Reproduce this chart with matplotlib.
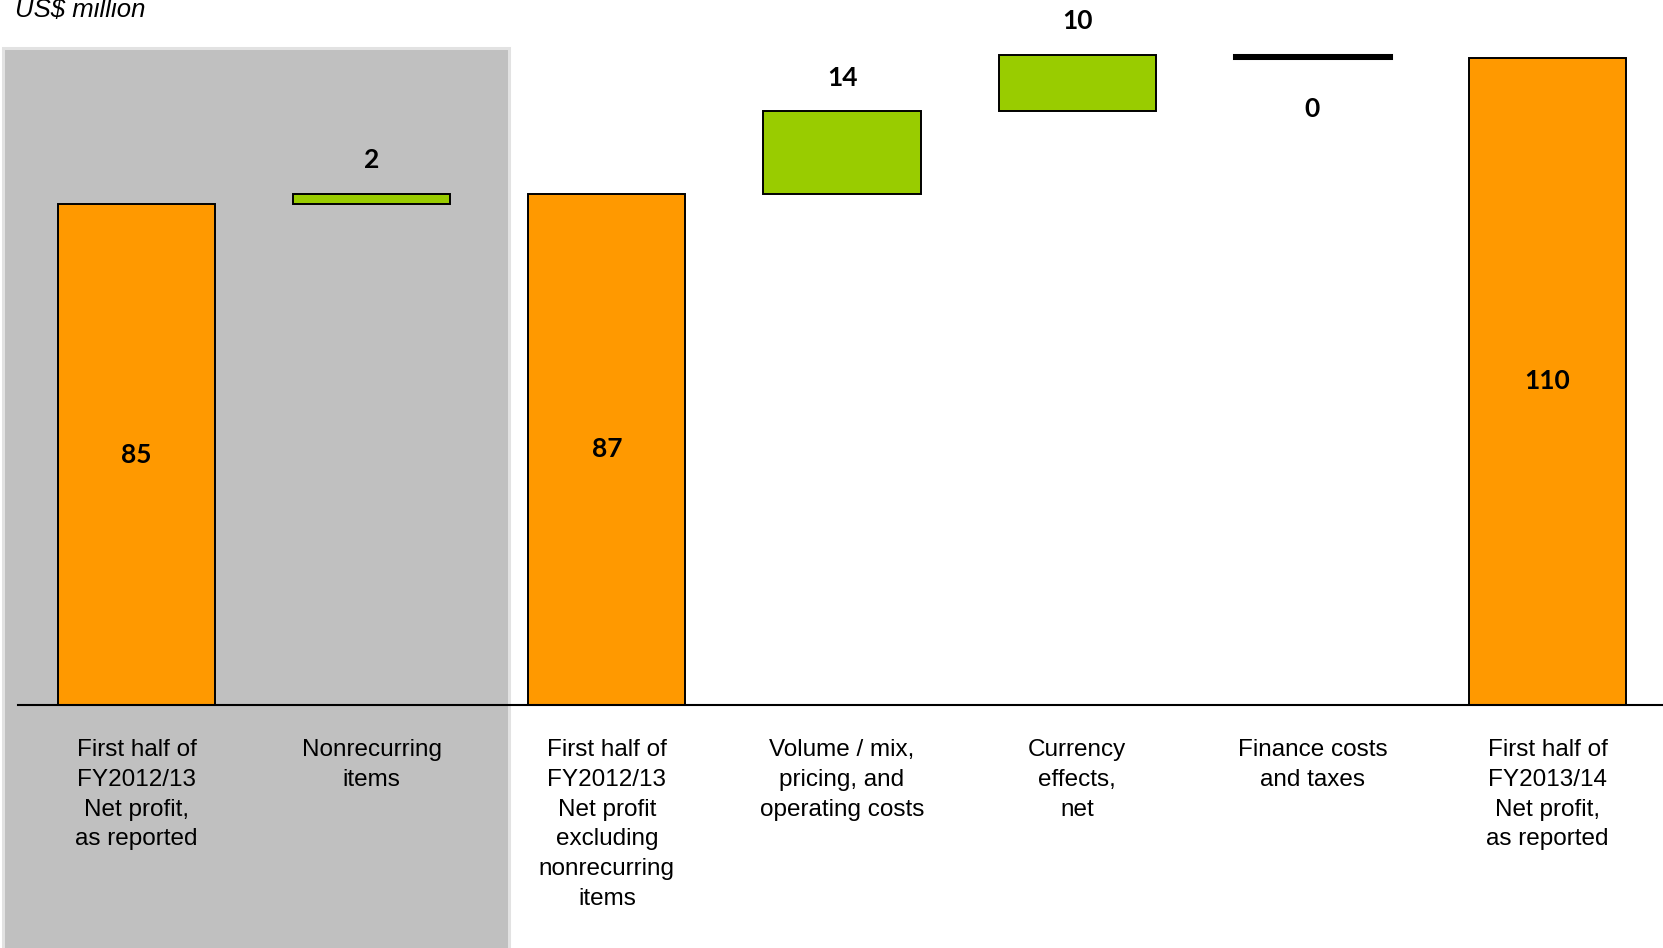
import matplotlib
matplotlib.use('Agg')
import matplotlib.pyplot as plt
from matplotlib.patches import Rectangle

# data (US$ million; labels show rounded values)
categories = ['First half of\nFY2012/13\nNet profit,\nas reported',
              'Nonrecurring\nitems',
              'First half of\nFY2012/13\nNet profit\nexcluding\nnonrecurring\nitems',
              'Volume / mix,\npricing, and\noperating costs',
              'Currency\neffects,\nnet',
              'Finance costs\nand taxes',
              'First half of\nFY2013/14\nNet profit,\nas reported']
values = [85.1, 1.8, 86.9, 14.0, 9.6, -0.5, 110.0]
kinds = ['total', 'delta', 'total', 'delta', 'delta', 'delta', 'total']
unit_label = 'US$ million'

ORANGE = '#FF9900'
GREEN = '#99CC00'
SHADE = '#C0C0C0'
VALUE_FONT = dict(fontsize=19, fontweight='bold', family=['Lato', 'DejaVu Sans'])

fig = plt.figure(figsize=(16.63, 9.48), dpi=100)
ax = fig.add_axes([0, 0, 1, 1])
ax.set_xlim(-0.5804, 6.491)
ax.set_ylim(-41.3, 119.8)
ax.axis('off')

# shaded panel behind the first two columns
ax.add_patch(Rectangle((-0.568, -45), 2.152, 45 + 111.6, facecolor=SHADE,
                       edgecolor='#E2E2E2', linewidth=2.2, zorder=0))

running = 0
for i, (v, k) in enumerate(zip(values, kinds)):
    label = str(abs(round(v)))
    if k == 'total':
        running = v
        ax.bar(i, v, width=0.668, color=ORANGE, edgecolor='black',
               linewidth=1.4, zorder=2)
        ax.text(i, v / 2, label, ha='center', va='center', **VALUE_FONT)
        continue
    bottom, top = running, running + v
    running += v
    if round(v) == 0:
        # negligible change: drawn as a black bar, label below
        ax.bar(i, v, bottom=bottom, width=0.668, color='black', edgecolor='black',
               linewidth=2.2, zorder=2)
        ax.annotate(label, xy=(i, min(bottom, top)), xytext=(0, -37),
                    textcoords='offset points', ha='center', va='center', **VALUE_FONT)
    else:
        ax.bar(i, v, bottom=bottom, width=0.668, color=GREEN, edgecolor='black',
               linewidth=1.4, zorder=2)
        ax.annotate(label, xy=(i, max(bottom, top)), xytext=(0, 24),
                    textcoords='offset points', ha='center', va='center', **VALUE_FONT)

# baseline
ax.axhline(0, xmin=(-0.504 + 0.5804) / (6.491 + 0.5804), xmax=1,
           color='black', linewidth=1.5, zorder=3)

for i, lab in enumerate(categories):
    ax.annotate(lab, xy=(i, 0), xytext=(0, -24.5), textcoords='offset points',
                ha='center', va='top', multialignment='center', fontsize=17.5,
                linespacing=1.46, family=['Liberation Sans Narrow', 'Liberation Sans'])

fig.text(15 / 1663, 1 - 17 / 948, unit_label, ha='left', va='baseline',
         fontsize=18.5, style='italic', family=['Liberation Sans', 'DejaVu Sans'])

fig.savefig('out.png', dpi=100)
